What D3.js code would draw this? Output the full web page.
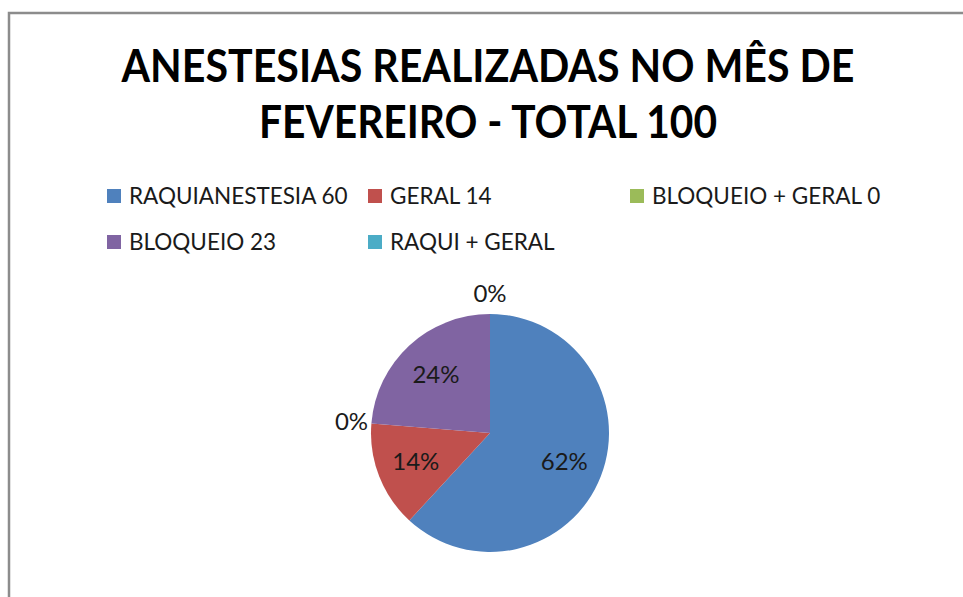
<!DOCTYPE html>
<html lang="pt">
<head>
    <meta charset="UTF-8">
    <title>Anestesias realizadas</title>
    <style>
        body { margin: 0; background: #fff; }
        .title { font-family: Lato, sans-serif; font-weight: bold; font-size: 45px; fill: #000; }
        .legend text { font-family: Lato, sans-serif; font-size: 22.5px; fill: #1a1a1a; }
        .pct { font-family: Lato, sans-serif; font-size: 24px; fill: #1a1a1a; }
    </style>
    <script src="https://d3js.org/d3.v7.min.js"></script>
</head>
<body>
<script>
    // data
    const categories = ["RAQUIANESTESIA 60", "GERAL 14", "BLOQUEIO + GERAL 0", "BLOQUEIO 23", "RAQUI + GERAL"];
    const values = [60, 14, 0, 23, 0];
    const colors = ["#4f81bd", "#c0504d", "#9bbb59", "#8064a2", "#4bacc6"];
    const titleLines = ["ANESTESIAS REALIZADAS NO MÊS DE", "FEVEREIRO - TOTAL 100"];
    const titleWidths = [733, 458];

    const width = 963, height = 597;
    const cx = 490, cy = 433, radius = 119;

    const svg = d3.select("body").append("svg")
        .attr("width", width)
        .attr("height", height);

    // chart frame (only top and left edges visible)
    svg.append("path")
        .attr("d", `M9,${height} V13 H${width}`)
        .attr("fill", "none")
        .attr("stroke", "#8c8c8c")
        .attr("stroke-width", 2.5);

    // title, squeezed a bit to mimic the condensed original face
    svg.selectAll(".title")
        .data(titleLines)
        .join("text")
        .attr("class", "title")
        .attr("x", 488)
        .attr("y", (d, i) => 82 + i * 56)
        .attr("text-anchor", "middle")
        .attr("textLength", (d, i) => titleWidths[i])
        .attr("lengthAdjust", "spacingAndGlyphs")
        .text(d => d);

    // legend
    const legendCols = [107, 368, 630];
    const legend = svg.append("g").attr("class", "legend");
    const items = legend.selectAll("g")
        .data(categories)
        .join("g")
        .attr("transform", (d, i) => `translate(${legendCols[i % 3]}, ${189 + Math.floor(i / 3) * 46})`);
    items.append("rect")
        .attr("width", 14)
        .attr("height", 14)
        .attr("fill", (d, i) => colors[i]);
    items.append("text")
        .attr("x", 22)
        .attr("y", 15)
        .text(d => d);

    // pie
    const total = d3.sum(values);
    const pie = d3.pie().sort(null).value(d => d.value);
    const arcs = pie(values.map((v, i) => ({value: v, i})));
    const arc = d3.arc().innerRadius(0).outerRadius(radius);
    const inner = d3.arc().innerRadius(radius * 0.67).outerRadius(radius * 0.67);
    const outer = d3.arc().innerRadius(radius + 20).outerRadius(radius + 20);

    const g = svg.append("g").attr("transform", `translate(${cx},${cy})`);
    g.selectAll("path")
        .data(arcs)
        .join("path")
        .attr("d", arc)
        .attr("fill", d => colors[d.data.i]);

    g.selectAll("text")
        .data(arcs)
        .join("text")
        .attr("class", "pct")
        .attr("transform", d => `translate(${(d.data.value > 0 ? inner : outer).centroid(d)})`)
        .attr("text-anchor", "middle")
        .attr("dy", "0.35em")
        .text(d => Math.round(d.data.value / total * 100) + "%");
</script>
</body>
</html>
